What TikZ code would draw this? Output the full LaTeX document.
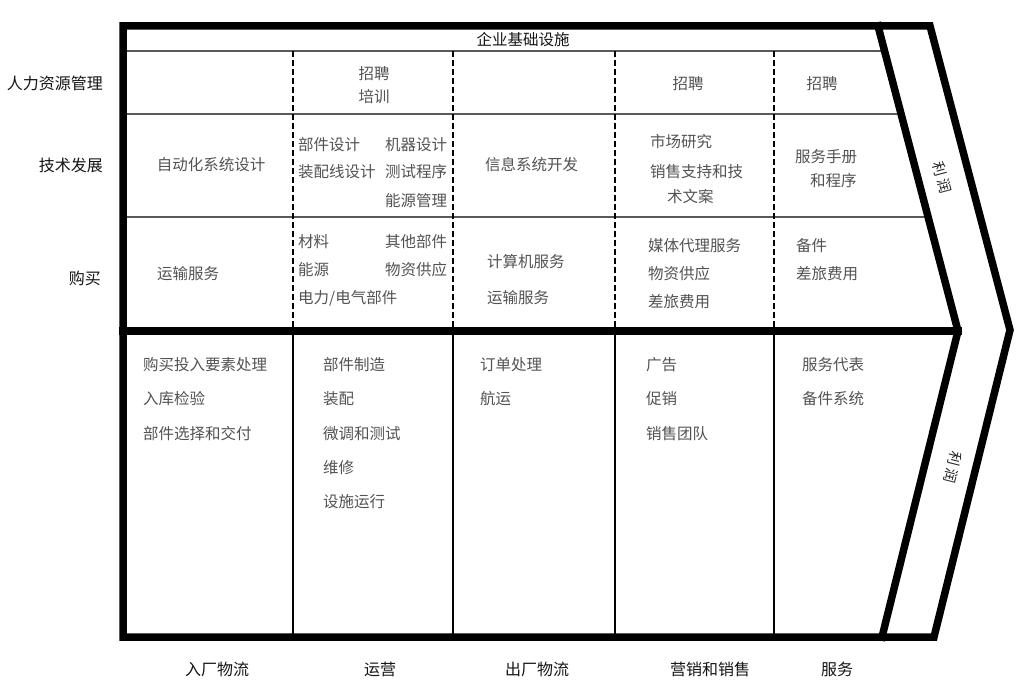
\documentclass[tikz,border=0pt]{standalone}
\usepackage{fontspec}
\setmainfont{Noto Sans CJK SC}
\usetikzlibrary{calc}
\begin{document}
\begin{tikzpicture}[x=1pt,y=-1pt,
  thickline/.style={line width=7.5pt, line join=miter, line cap=rect},
  thinline/.style={line width=1.3pt},
  dashline/.style={line width=1.6pt, dash pattern=on 6pt off 3pt},
  cell/.style={font=\fontsize{15.5}{18}\selectfont, text=black!68, inner sep=0pt},
  celll/.style={cell, anchor=west},
  lbl/.style={font=\fontsize{16}{19}\selectfont, text=black!92, inner sep=0pt},
  profit/.style={font=\fontsize{14.5}{18}\selectfont, text=black!85, inner sep=0pt},
]
\useasboundingbox (0,0) rectangle (1026,682);
% key points
\coordinate (tl) at (123,26);
\coordinate (bl) at (123,637);
\coordinate (ot) at (930,26);
\coordinate (otip) at (1010,330);
\coordinate (ob) at (934,637);
\coordinate (it) at (878,26);
\coordinate (itip) at (958,331);
\coordinate (ib) at (882,637);
\coordinate (ml) at (123,331);
% thin row lines
\coordinate (r1l) at (123,51);  \coordinate (r1r) at ($(it)!{25/305}!(itip)$);
\coordinate (r2l) at (123,114); \coordinate (r2r) at ($(it)!{88/305}!(itip)$);
\coordinate (r3l) at (123,217); \coordinate (r3r) at ($(it)!{191/305}!(itip)$);
\draw[thinline] (r1l) -- (r1r);
\draw[thinline] (r2l) -- (r2r);
\draw[thinline] (r3l) -- (r3r);
% column dividers
\foreach \n/\x in {a/293,b/453,c/615,d/774}{
  \coordinate (\n1) at (\x,51);
  \coordinate (\n2) at (\x,331);
  \coordinate (\n3) at (\x,637);
  \draw[dashline] (\n1) -- (\n2);
  \draw[thinline] (\n2) -- (\n3);
}
% thick frame
\draw[thickline] (tl) -- (ot) -- (otip) -- (ob) -- (bl) -- cycle;
\draw[thickline] (it) -- (itip) -- (ib);
\draw[thickline] (ml) -- (itip);

% title row
\node[lbl, font=\fontsize{15.5}{18}\selectfont] (infra) at (523,40) {企业基础设施};
% left labels
\node[lbl, anchor=east] (hrm) at (103,83) {人力资源管理};
\node[lbl, anchor=east] (tech) at (103,165) {技术发展};
\node[lbl, anchor=east] (buy) at (101,278) {购买};
% bottom labels
\node[lbl] (b1) at (217,669) {入厂物流};
\node[lbl] (b2) at (380,669) {运营};
\node[lbl] (b3) at (537,669) {出厂物流};
\node[lbl] (b4) at (710,669) {营销和销售};
\node[lbl] (b5) at (837,669) {服务};
% profit labels
\node[profit, rotate=-75] (p1) at (942,178) {利\kern3pt 润};
\node[profit, rotate=-104] (p2) at (953,467) {利\kern3pt 润};

% HR row
\node[cell, align=center, font=\fontsize{15.5}{23}\selectfont] (h2) at (374,85) {招聘\\培训};
\node[cell] (h4) at (688,84) {招聘};
\node[cell] (h5) at (822,84) {招聘};

% tech row
\node[cell] (t1) at (211,165) {自动化系统设计};
\node[celll] (t2a) at (298,145) {部件设计};
\node[celll] (t2b) at (385,145) {机器设计};
\node[celll] (t2c) at (298,172) {装配线设计};
\node[celll] (t2d) at (385,172) {测试程序};
\node[celll] (t2e) at (385,201) {能源管理};
\node[celll] (t3) at (485,165) {信息系统开发};
\node[celll] (t4a) at (650,142) {市场研究};
\node[celll] (t4b) at (650,172) {销售支持和技};
\node[celll] (t4c) at (667,197) {术文案};
\node[celll] (t5a) at (795,157) {服务手册};
\node[celll] (t5b) at (810,181) {和程序};

% purchase row
\node[celll] (q1) at (157,274) {运输服务};
\node[celll] (q2a) at (298,242) {材料};
\node[celll] (q2b) at (385,242) {其他部件};
\node[celll] (q2c) at (298,270) {能源};
\node[celll] (q2d) at (385,270) {物资供应};
\node[celll] (q2e) at (298,298) {电力/电气部件};
\node[celll] (q3a) at (487,262) {计算机服务};
\node[celll] (q3b) at (487,298) {运输服务};
\node[celll] (q4a) at (648,246) {媒体代理服务};
\node[celll] (q4b) at (648,274) {物资供应};
\node[celll] (q4c) at (648,302) {差旅费用};
\node[celll] (q5a) at (796,246) {备件};
\node[celll] (q5b) at (796,274) {差旅费用};

% primary activities
\node[celll] (l1a) at (143,365) {购买投入要素处理};
\node[celll] (l1b) at (143,399) {入库检验};
\node[celll] (l1c) at (143,434) {部件选择和交付};
\node[celll] (l2a) at (323,365) {部件制造};
\node[celll] (l2b) at (323,399) {装配};
\node[celll] (l2c) at (323,434) {微调和测试};
\node[celll] (l2d) at (323,468) {维修};
\node[celll] (l2e) at (323,502) {设施运行};
\node[celll] (l3a) at (480,365) {订单处理};
\node[celll] (l3b) at (480,399) {航运};
\node[celll] (l4a) at (646,365) {广告};
\node[celll] (l4b) at (646,399) {促销};
\node[celll] (l4c) at (646,434) {销售团队};
\node[celll] (l5a) at (802,365) {服务代表};
\node[celll] (l5b) at (802,399) {备件系统};
\end{tikzpicture}
\end{document}
